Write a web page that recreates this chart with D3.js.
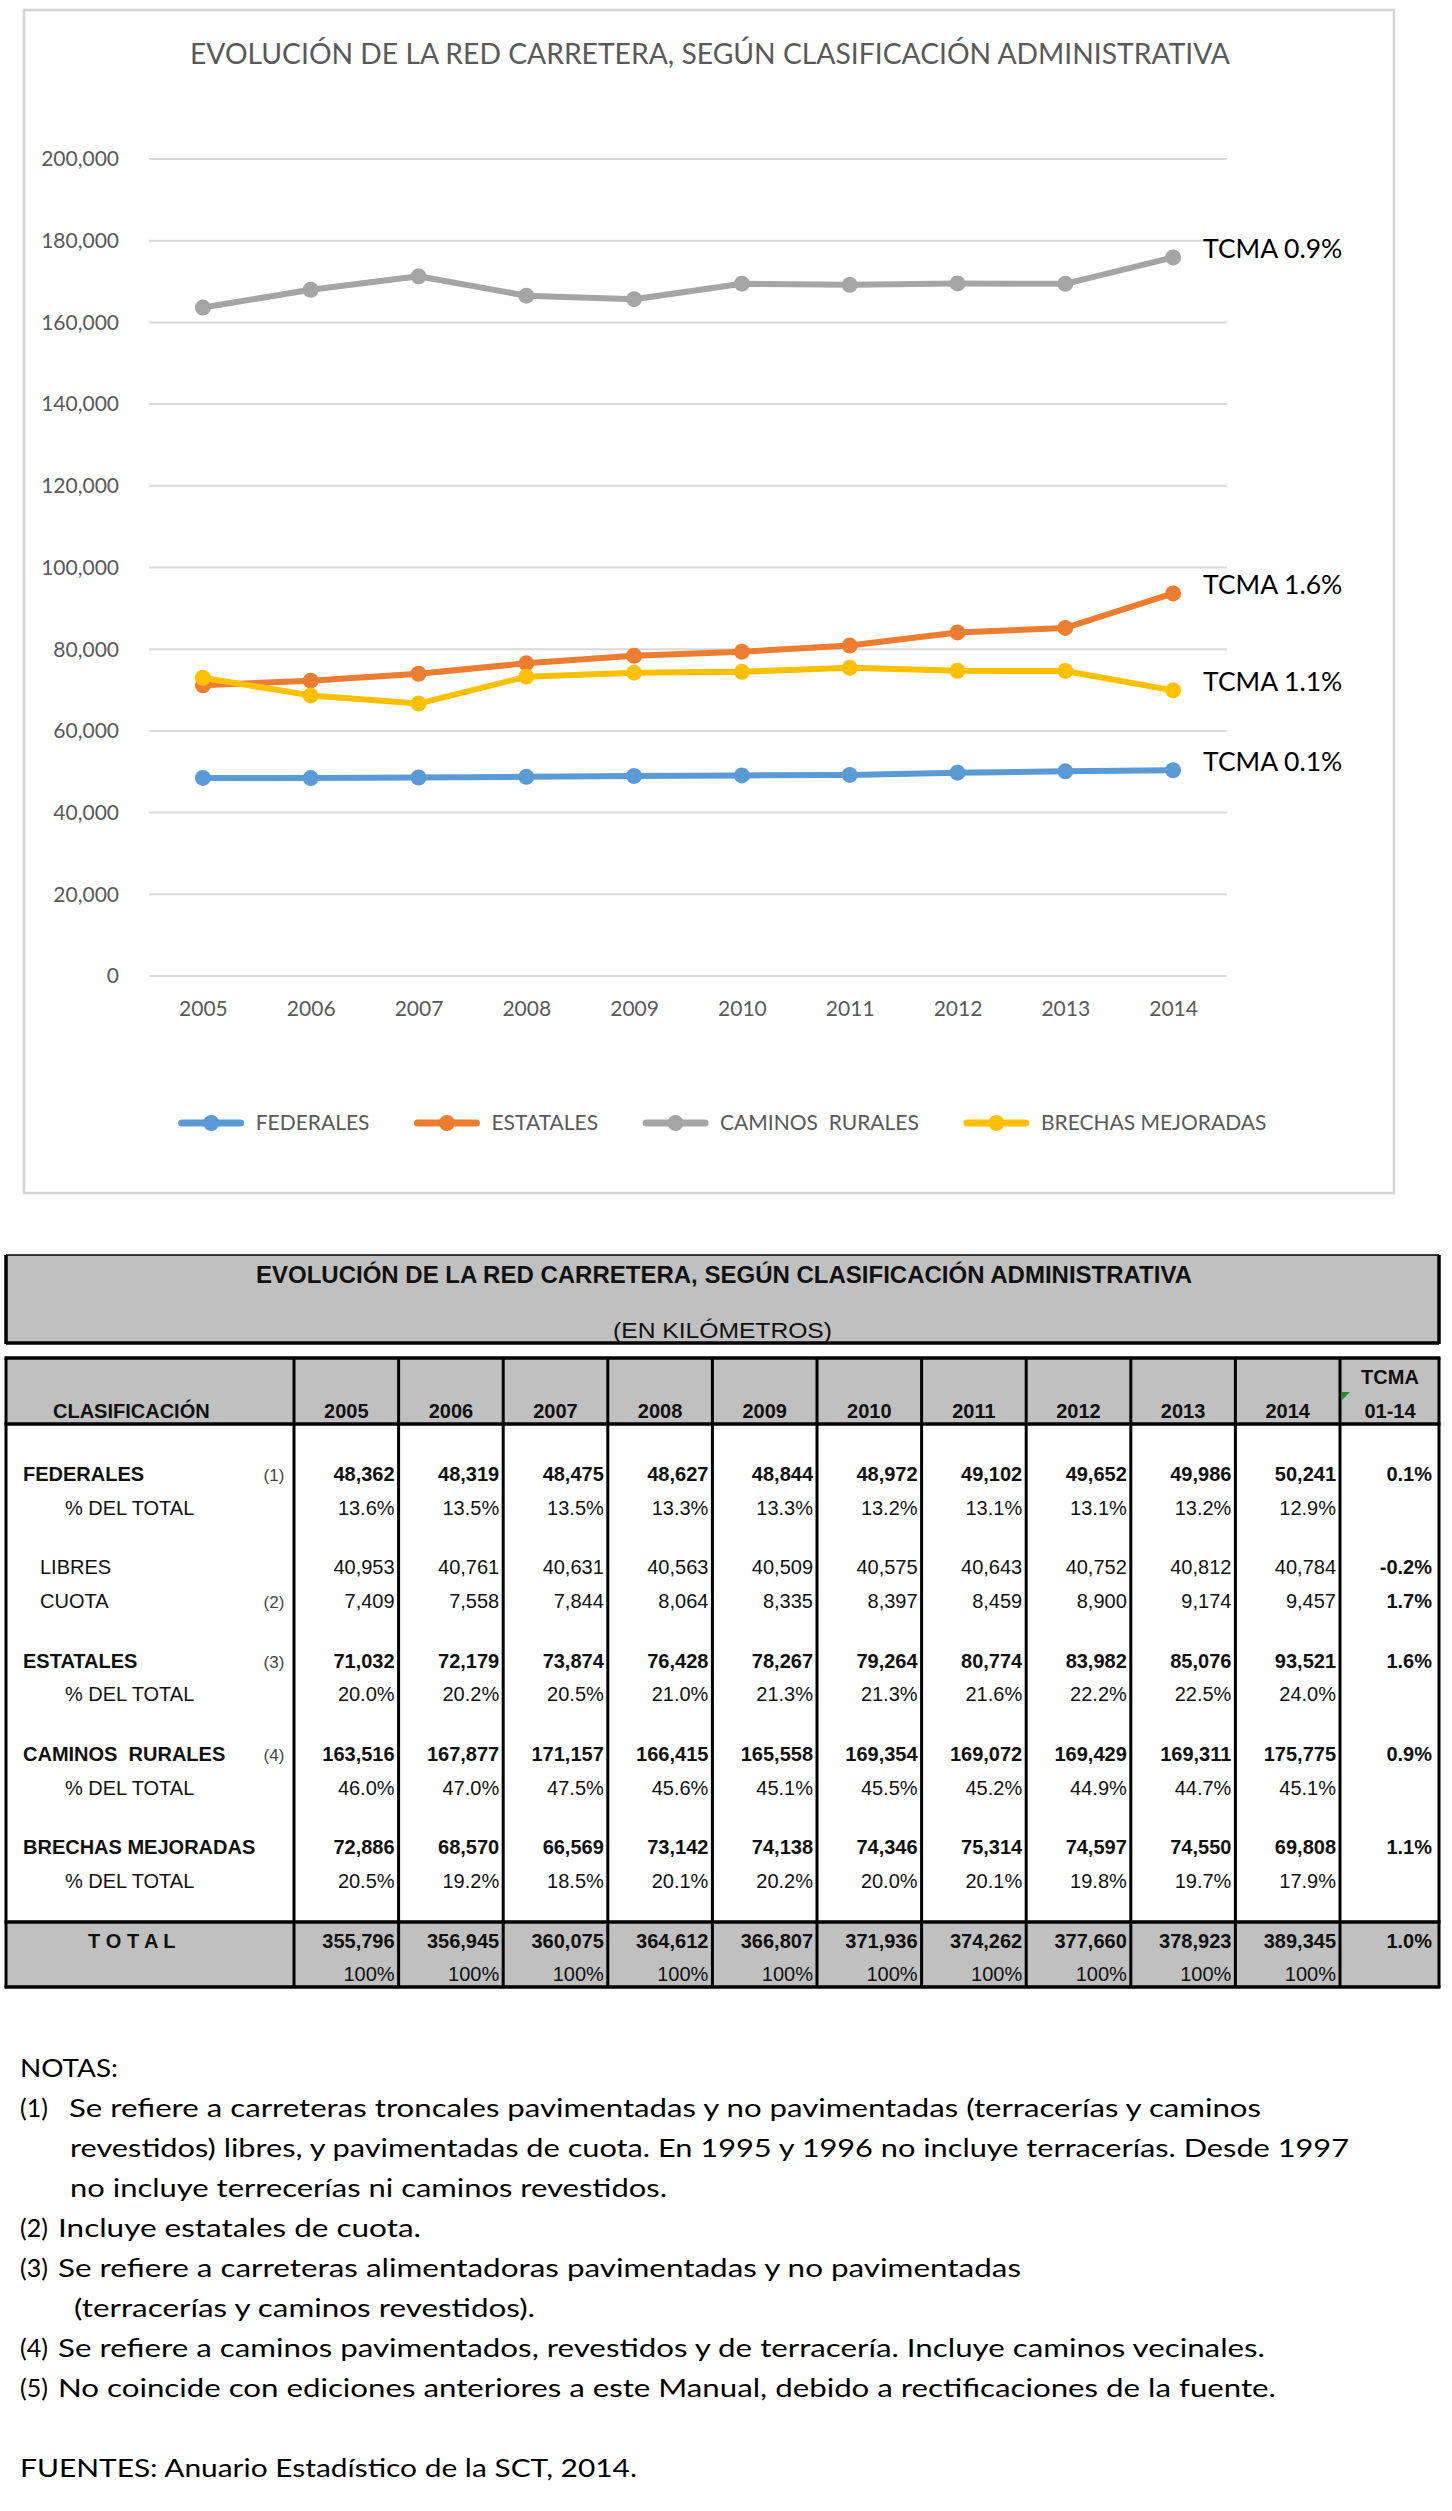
<!DOCTYPE html>
<html><head><meta charset="utf-8">
<script src="https://cdn.jsdelivr.net/npm/d3@7/dist/d3.min.js"></script>
<style>body{margin:0;background:#fff} text{white-space:pre}</style>
</head><body>
<svg id="c" width="1452" height="2511" xmlns="http://www.w3.org/2000/svg"></svg>
<script>
// ---------------- DATA ----------------
const years = [2005, 2006, 2007, 2008, 2009, 2010, 2011, 2012, 2013, 2014];
const federales = [48362, 48319, 48475, 48627, 48844, 48972, 49102, 49652, 49986, 50241];
const estatales = [71032, 72179, 73874, 76428, 78267, 79264, 80774, 83982, 85076, 93521];
const caminosRurales = [163516, 167877, 171157, 166415, 165558, 169354, 169072, 169429, 169311, 175775];
const brechasMejoradas = [72886, 68570, 66569, 73142, 74138, 74346, 75314, 74597, 74550, 69808];
const libres = [40953, 40761, 40631, 40563, 40509, 40575, 40643, 40752, 40812, 40784];
const cuota = [7409, 7558, 7844, 8064, 8335, 8397, 8459, 8900, 9174, 9457];
const totales = [355796, 356945, 360075, 364612, 366807, 371936, 374262, 377660, 378923, 389345];
const pctFederales = [13.6, 13.5, 13.5, 13.3, 13.3, 13.2, 13.1, 13.1, 13.2, 12.9];
const pctEstatales = [20.0, 20.2, 20.5, 21.0, 21.3, 21.3, 21.6, 22.2, 22.5, 24.0];
const pctRurales = [46.0, 47.0, 47.5, 45.6, 45.1, 45.5, 45.2, 44.9, 44.7, 45.1];
const pctBrechas = [20.5, 19.2, 18.5, 20.1, 20.2, 20.0, 20.1, 19.8, 19.7, 17.9];
const pctTotal = [100, 100, 100, 100, 100, 100, 100, 100, 100, 100];
const seriesNames = ["FEDERALES", "ESTATALES", "CAMINOS  RURALES", "BRECHAS MEJORADAS"];
const seriesColors = ["#5b9bd5", "#ed7d31", "#a5a5a5", "#ffc000"];
const seriesTcma = ["TCMA 0.1%", "TCMA 1.6%", "TCMA 0.9%", "TCMA 1.1%"];
const yTicks = [0, 20000, 40000, 60000, 80000, 100000, 120000, 140000, 160000, 180000, 200000];
const tcmaColumn = ["0.1%", "-0.2%", "1.7%", "1.6%", "0.9%", "1.1%", "1.0%"];
const chartTitle = "EVOLUCIÓN DE LA RED CARRETERA, SEGÚN CLASIFICACIÓN ADMINISTRATIVA";
const tableTitle = "EVOLUCIÓN DE LA RED CARRETERA, SEGÚN CLASIFICACIÓN ADMINISTRATIVA";
const tableSubtitle = "(EN KILÓMETROS)";
const notes = [
  ["(1)", "Se refiere a carreteras troncales pavimentadas y no pavimentadas (terracerías y caminos"],
  [null, "revestidos) libres, y pavimentadas de cuota. En 1995 y 1996 no incluye terracerías. Desde 1997"],
  [null, "no incluye terrecerías ni caminos revestidos."],
  ["(2)", "Incluye estatales de cuota."],
  ["(3)", "Se refiere a carreteras alimentadoras pavimentadas y no pavimentadas"],
  [null, " (terracerías y caminos revestidos)."],
  ["(4)", "Se refiere a caminos pavimentados, revestidos y de terracería. Incluye caminos vecinales."],
  ["(5)", "No coincide con ediciones anteriores a este Manual, debido a rectificaciones de la fuente."]
];
const source = "FUENTES: Anuario Estadístico de la SCT, 2014.";

const series = [federales, estatales, caminosRurales, brechasMejoradas];

// ---------------- CHART ----------------
const svg = d3.select("#c");
svg.append("rect").attr("width", 1452).attr("height", 2511).attr("fill", "#fff");

const CF = "Lato, 'Open Sans', sans-serif";
const chart = svg.append("g");
chart.append("rect").attr("x", 24).attr("y", 10).attr("width", 1370).attr("height", 1183)
  .attr("fill", "#fff").attr("stroke", "#d4d4d4").attr("stroke-width", 2.5);

chart.append("text").attr("x", 190).attr("y", 64).text(chartTitle)
  .attr("font-family", CF).attr("font-size", 29).attr("fill", "#595959")
  .attr("textLength", 1040).attr("lengthAdjust", "spacingAndGlyphs");

const x = d3.scalePoint().domain(years).range([149, 1227]).padding(0.5);
const y = d3.scaleLinear().domain([0, 200000]).range([975.5, 158.5]);

const yAxis = chart.append("g").attr("transform", "translate(149,0)")
  .call(d3.axisLeft(y).tickValues(yTicks).tickSize(-(1227 - 149)).tickPadding(30).tickFormat(d3.format(",")));
yAxis.select(".domain").remove();
yAxis.selectAll(".tick line").attr("stroke", "#d9d9d9").attr("stroke-width", 2);
yAxis.selectAll(".tick text").attr("font-family", CF).attr("font-size", 21).attr("fill", "#595959").attr("dy", "0.35em");

const xAxis = chart.append("g").attr("transform", "translate(0,975.5)")
  .call(d3.axisBottom(x).tickSize(0).tickFormat(d3.format("d")));
xAxis.select(".domain").remove();
xAxis.selectAll(".tick text").attr("font-family", CF).attr("font-size", 21).attr("fill", "#595959")
  .attr("y", 40.5).attr("dy", 0);

const line = d3.line().x((d, i) => x(years[i])).y(d => y(d));
series.forEach((s, k) => {
  const g = chart.append("g");
  g.append("path").datum(s).attr("d", line).attr("fill", "none")
    .attr("stroke", seriesColors[k]).attr("stroke-width", 6).attr("stroke-linejoin", "round");
  g.selectAll("circle").data(s).join("circle")
    .attr("cx", (d, i) => x(years[i])).attr("cy", d => y(d)).attr("r", 8).attr("fill", seriesColors[k]);
  g.append("text").attr("x", x(years[years.length - 1]) + 30).attr("y", y(s[s.length - 1]) - 9)
    .attr("dy", "0.35em").text(seriesTcma[k])
    .attr("font-family", CF).attr("font-size", 26.5).attr("fill", "#000");
});

// legend
const leg = chart.append("g");
const items = [];
let cx = 0;
seriesNames.forEach((n, k) => {
  const it = leg.append("g");
  it.append("line").attr("x1", 0).attr("x2", 59).attr("y1", 0).attr("y2", 0)
    .attr("stroke", seriesColors[k]).attr("stroke-width", 7).attr("stroke-linecap", "round");
  it.append("circle").attr("cx", 29.5).attr("cy", 0).attr("r", 8).attr("fill", seriesColors[k]);
  const t = it.append("text").attr("x", 74).attr("y", 0).attr("dy", "0.35em").text(n)
    .attr("font-family", CF).attr("font-size", 21).attr("fill", "#595959");
  const w = t.node().getComputedTextLength();
  items.push({it, pos: cx});
  cx += 74 + w + 48;
});
const totalW = cx - 48;
const startX = 724 - totalW / 2;
items.forEach(o => o.it.attr("transform", `translate(${startX + o.pos},1123)`));

// ---------------- TABLE ----------------
const TF = "'Liberation Sans', Arial, sans-serif";
const tbl = svg.append("g");
const L = 6, R = 1439;
// title box
tbl.append("rect").attr("x", L).attr("y", 1255).attr("width", R - L).attr("height", 88).attr("fill", "#c0c0c0");
tbl.append("line").attr("x1", L).attr("x2", R).attr("y1", 1255).attr("y2", 1255).attr("stroke", "#000").attr("stroke-width", 1.5);
tbl.append("line").attr("x1", L).attr("x2", R).attr("y1", 1343).attr("y2", 1343).attr("stroke", "#000").attr("stroke-width", 3.5);
[L, R].forEach(v => tbl.append("line").attr("x1", v).attr("x2", v).attr("y1", 1255).attr("y2", 1344).attr("stroke", "#000").attr("stroke-width", 3.5));
tbl.append("text").attr("x", 724).attr("y", 1283).attr("text-anchor", "middle").text(tableTitle)
  .attr("font-family", TF).attr("font-size", 24).attr("font-weight", "bold").attr("fill", "#111");
tbl.append("text").attr("x", 613).attr("y", 1338).text(tableSubtitle)
  .attr("font-family", TF).attr("font-size", 22).attr("fill", "#111")
  .attr("textLength", 219).attr("lengthAdjust", "spacingAndGlyphs");

// main table
const col = d3.scaleBand().domain(years).range([294, 1340]);
const tTop = 1358, hdrBot = 1424, totTop = 1922, tBot = 1987;
tbl.append("rect").attr("x", L).attr("y", tTop).attr("width", R - L).attr("height", hdrBot - tTop).attr("fill", "#c0c0c0");
tbl.append("rect").attr("x", L).attr("y", totTop).attr("width", R - L).attr("height", tBot - totTop).attr("fill", "#c0c0c0");
[tTop, hdrBot, totTop, tBot].forEach(v => tbl.append("line").attr("x1", L - 1.5).attr("x2", R + 1.5).attr("y1", v).attr("y2", v).attr("stroke", "#000").attr("stroke-width", 3.5));
const vlines = [L].concat(years.map(d => col(d))).concat([1340, R]);
vlines.forEach(v => tbl.append("line").attr("x1", v).attr("x2", v).attr("y1", tTop).attr("y2", tBot).attr("stroke", "#000").attr("stroke-width", 3));

// header
const hdr = tbl.append("g").attr("font-family", TF).attr("font-size", 20).attr("font-weight", "bold").attr("fill", "#111");
hdr.append("text").attr("x", 53).attr("y", 1418).text("CLASIFICACIÓN");
hdr.selectAll(".yr").data(years).join("text").attr("class", "yr")
  .attr("x", d => col(d) + col.bandwidth() / 2).attr("y", 1418).attr("text-anchor", "middle").text(d => d);
hdr.append("text").attr("x", 1390).attr("y", 1384).attr("text-anchor", "middle").text("TCMA");
hdr.append("text").attr("x", 1390).attr("y", 1418).attr("text-anchor", "middle").text("01-14");
tbl.append("polygon").attr("points", "1342,1392 1350,1392 1342,1400").attr("fill", "#1f8f2f");

// rows
const fmtInt = d3.format(",");
const fmtPct = v => v === 100 ? "100%" : d3.format(".1f")(v) + "%";
const groups = [
  [{label: "FEDERALES", note: "(1)", bold: true, lx: 23, values: federales, fmt: fmtInt, tcma: tcmaColumn[0]},
   {label: "% DEL TOTAL", lx: 65, values: pctFederales, fmt: fmtPct}],
  [{label: "LIBRES", lx: 40, values: libres, fmt: fmtInt, tcma: tcmaColumn[1]},
   {label: "CUOTA", note: "(2)", lx: 40, values: cuota, fmt: fmtInt, tcma: tcmaColumn[2]}],
  [{label: "ESTATALES", note: "(3)", bold: true, lx: 23, values: estatales, fmt: fmtInt, tcma: tcmaColumn[3]},
   {label: "% DEL TOTAL", lx: 65, values: pctEstatales, fmt: fmtPct}],
  [{label: "CAMINOS  RURALES", note: "(4)", bold: true, lx: 23, values: caminosRurales, fmt: fmtInt, tcma: tcmaColumn[4]},
   {label: "% DEL TOTAL", lx: 65, values: pctRurales, fmt: fmtPct}],
  [{label: "BRECHAS MEJORADAS", bold: true, lx: 23, values: brechasMejoradas, fmt: fmtInt, tcma: tcmaColumn[5]},
   {label: "% DEL TOTAL", lx: 65, values: pctBrechas, fmt: fmtPct}],
  [{label: "T O T A L", bold: true, lx: 88, values: totales, fmt: fmtInt, tcma: tcmaColumn[6]},
   {label: "", lx: 65, values: pctTotal, fmt: fmtPct}]
];
groups.forEach((grp, gi) => {
  grp.forEach((row, ri) => {
    const by = 1481 + gi * 93.3 + ri * 33.8;
    const g = tbl.append("g").attr("font-family", TF).attr("font-size", 20).attr("fill", "#111");
    if (row.label) g.append("text").attr("x", row.lx).attr("y", by).text(row.label)
      .attr("font-weight", row.bold ? "bold" : "normal");
    if (row.note) g.append("text").attr("x", 274).attr("y", by).attr("text-anchor", "middle")
      .attr("font-size", 17).attr("fill", "#444").text(row.note);
    g.selectAll(".v").data(row.values).join("text").attr("class", "v")
      .attr("x", (d, i) => col(years[i]) + col.bandwidth() - 4).attr("y", by)
      .attr("text-anchor", "end").attr("font-weight", row.bold ? "bold" : "normal")
      .text(d => row.fmt(d));
    if (row.tcma) g.append("text").attr("x", 1432).attr("y", by).attr("text-anchor", "end")
      .attr("font-weight", "bold").text(row.tcma);
  });
});

// ---------------- NOTES ----------------
const NF = "Lato, 'Open Sans', sans-serif";
const nt = svg.append("g").attr("font-family", NF).attr("font-size", 25).attr("fill", "#000");
const noteEnds = [1261, 1349, 667, 421, 1021, 535, 1265, 1276];
nt.append("text").attr("x", 20).attr("y", 2077).text("NOTAS:").attr("textLength", 98).attr("lengthAdjust", "spacingAndGlyphs");
notes.forEach((n, i) => {
  const by = 2117 + i * 40;
  if (n[0]) {
    nt.append("text").attr("x", 20).attr("y", by).text(n[0]);
    const rx = i === 0 ? 69 : 58;
    nt.append("text").attr("x", rx).attr("y", by).text(n[1])
      .attr("textLength", noteEnds[i] - rx).attr("lengthAdjust", "spacingAndGlyphs");
  } else {
    const sx = n[1].startsWith(" ") ? 74 : 70;
    nt.append("text").attr("x", sx).attr("y", by).text(n[1].trim())
      .attr("textLength", noteEnds[i] - sx).attr("lengthAdjust", "spacingAndGlyphs");
  }
});
nt.append("text").attr("x", 20).attr("y", 2477).text(source).attr("textLength", 617).attr("lengthAdjust", "spacingAndGlyphs");
</script>
</body></html>
